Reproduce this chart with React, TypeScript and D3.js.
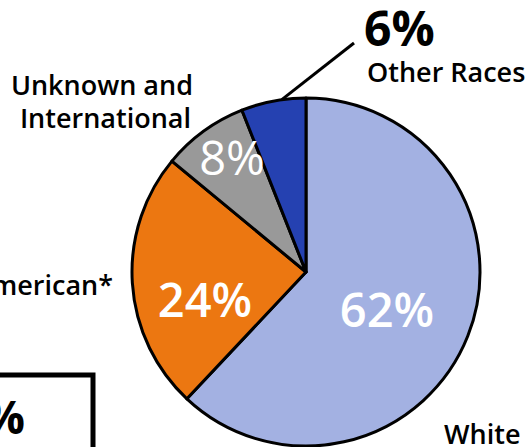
import { useMemo } from "react";
import * as d3 from "d3";

const WIDTH = 530;
const HEIGHT = 447;
const CENTER = { x: 306, y: 272 };
const RADIUS = 174;

const categories = ["White", "African American*", "Unknown and International", "Other Races"];
const shares = [62, 24, 8, 6];
const colors = ["#a3b1e2", "#ec7711", "#999999", "#2541b1"];

const FONT = "'Open Sans', 'Noto Sans', sans-serif";

export default function App() {
  const slices = useMemo(() => {
    const pie = d3
      .pie<number>()
      .sort(null)
      .startAngle(0)
      .endAngle(2 * Math.PI);
    return pie(shares);
  }, []);

  const arc = d3.arc<d3.PieArcDatum<number>>().innerRadius(0).outerRadius(RADIUS);

  // leader line for the small "Other Races" slice
  const other = slices[3];
  const a = other.startAngle + (other.endAngle - other.startAngle) * 0.63;
  const lx1 = Math.sin(a) * RADIUS;
  const ly1 = -Math.cos(a) * RADIUS;

  return (
    <div style={{ position: "absolute", left: 0, top: 0 }}>
      <svg width={WIDTH} height={HEIGHT} style={{ display: "block" }}>
        <g transform={`translate(${CENTER.x},${CENTER.y})`}>
          {slices.map((s, i) => (
            <path
              key={categories[i]}
              d={arc(s) || ""}
              fill={colors[i]}
              stroke="#000"
              strokeWidth={3}
              strokeLinejoin="round"
            />
          ))}
          <line x1={lx1} y1={ly1} x2={48} y2={-229} stroke="#000" strokeWidth={3} />
        </g>

        {/* values inside slices */}
        <g fontFamily={FONT} fill="#fff" textAnchor="middle">
          <text x={387} y={327} fontSize={47} fontWeight={600}>
            {shares[0]}%
          </text>
          <text x={205} y={317} fontSize={47} fontWeight={600}>
            {shares[1]}%
          </text>
          <text x={232} y={175} fontSize={47} fontWeight={400}>
            {shares[2]}%
          </text>
        </g>

        {/* outside labels */}
        <g fontFamily={FONT} fill="#000">
          <text x={364} y={46} fontSize={48} fontWeight={700}>
            {shares[3]}%
          </text>
          <text x={367} y={82} fontSize={27} fontWeight={600}>
            {categories[3]}
          </text>
          <text x={193} y={95} fontSize={27} fontWeight={600} textAnchor="end">
            Unknown and
          </text>
          <text x={191} y={128} fontSize={27} fontWeight={600} textAnchor="end">
            International
          </text>
          <text x={113} y={295} fontSize={27} fontWeight={600} textAnchor="end">
            {categories[1]}
          </text>
          <text x={444} y={444} fontSize={27} fontWeight={600}>
            {categories[0]}
          </text>
        </g>

        {/* summary box, mostly cropped off */}
        <rect x={-300} y={375} width={393} height={200} fill="none" stroke="#000" strokeWidth={5} />
        <text x={25} y={434} fontFamily={FONT} fontSize={46} fontWeight={700} textAnchor="end">
          30%
        </text>
      </svg>
    </div>
  );
}
